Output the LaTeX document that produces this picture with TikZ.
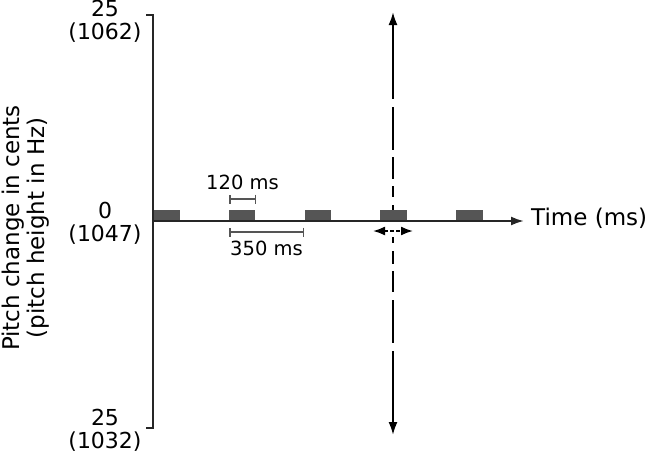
\documentclass[tikz,border=0pt]{standalone}
\usepackage{fontspec}
\setmainfont{DejaVu Sans}
\usetikzlibrary{arrows.meta}

\definecolor{pulsegray}{HTML}{555555}
\definecolor{axisgray}{HTML}{262626}

\tikzset{
	axisline/.style={line width=2pt, draw=axisgray},
	pulse/.style={fill=pulsegray, draw=none, minimum width=26.5pt, minimum height=11pt, inner sep=0pt, anchor=south west},
	span/.style={line width=1.5pt, draw=pulsegray, {Bar[width=9pt]}-{Bar[width=9pt]}},
	ticklabel/.style={font=\fontsize{22}{23}\selectfont, align=center, inner sep=0pt},
	spanlabel/.style={font=\fontsize{19.5}{22}\selectfont, inner sep=0pt},
}

\begin{document}
\begin{tikzpicture}[x=1pt, y=-1pt]
	\useasboundingbox (0,0) rectangle (654,456);

	\coordinate (ytop)   at (153, 15);
	\coordinate (ybot)   at (153, 428);
	\coordinate (origin) at (153, 221);
	\coordinate (xend)   at (524, 221);
	\coordinate (vtop)   at (393, 12);
	\coordinate (vbot)   at (393, 435);
	\coordinate (jl)     at (373, 231);
	\coordinate (jr)     at (413, 231);

	% pulses
	\foreach \i in {0,...,4}
		\node[pulse] (p\i) at (153+75.7*\i, 221) {};

	% axes
	\draw[axisline] (146,15) -- (ytop) -- (ybot) -- (146,428);
	\draw[axisline, -{Latex[length=13pt, width=9pt]}] (origin) -- (xend);

	\node[ticklabel] (top)  at (105, 21)  {25\\(1062)};
	\node[ticklabel] (zero) at (105, 223) {0\\(1047)};
	\node[ticklabel] (bot)  at (105, 430) {25\\(1032)};
	\node[font=\fontsize{23}{26}\selectfont, anchor=west, inner sep=0pt] (time) at (531, 218) {Time (ms)};
	\node[font=\fontsize{23}{25}\selectfont, align=center, rotate=90, inner sep=0pt] (ylab) at (26, 228)
		{Pitch change in cents\\(pitch height in Hz)};

	% durations
	\coordinate (a1) at (229, 199);
	\coordinate (a2) at (256, 199);
	\coordinate (b1) at (229, 232);
	\coordinate (b2) at (304, 232);
	\draw[span] (a1) -- node[spanlabel, above=8pt] (d1) {120 ms} (a2);
	\draw[span] (b1) -- node[spanlabel, below=8pt] (d2) {350 ms} (b2);

	% jitter
	\draw[line width=1.8pt, black, {Latex[length=12pt, width=9pt]}-{Latex[length=12pt, width=9pt]},
		dash pattern=on 4pt off 2pt] (jl) -- (jr);
	\draw[line width=2pt, black, {Latex[length=13pt, width=9pt]}-{Latex[length=13pt, width=9pt]},
		dash pattern=on 75pt off 8pt on 43pt off 7pt on 22pt off 7pt on 11pt off 8pt on 5pt off 27pt
		on 6pt off 8pt on 13pt off 7pt on 21pt off 8pt on 43pt off 8pt on 200pt] (vtop) -- (vbot);
\end{tikzpicture}
\end{document}
